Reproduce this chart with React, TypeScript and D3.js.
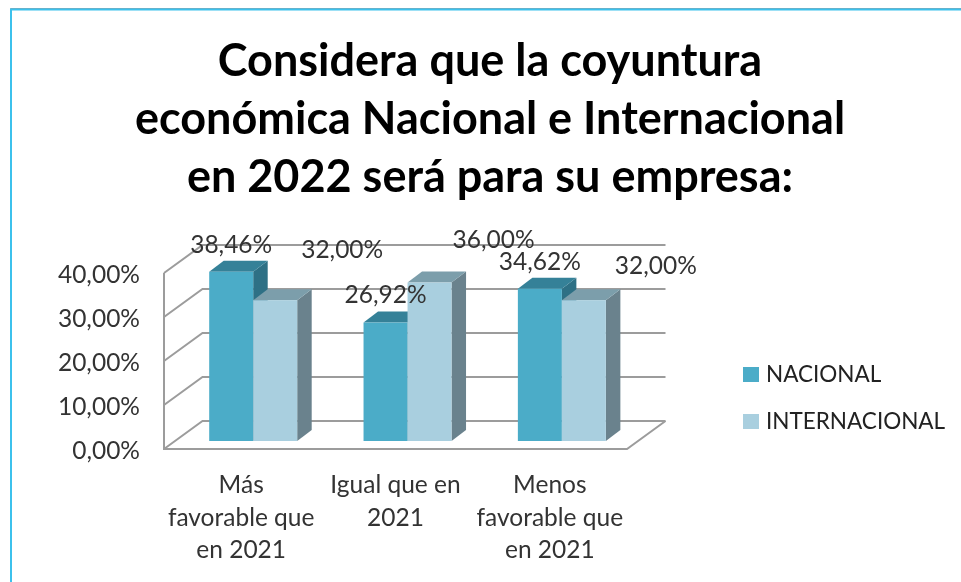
import React from "react";
import * as d3 from "d3";

const titleLines = ["Considera que la coyuntura", "económica Nacional e Internacional", "en 2022 será para su empresa:"];
const categories = ["Más favorable que en 2021", "Igual que en 2021", "Menos favorable que en 2021"];
const categoryLines = [["Más", "favorable que", "en 2021"], ["Igual que en", "2021"], ["Menos", "favorable que", "en 2021"]];
const seriesNames = ["NACIONAL", "INTERNACIONAL"];
const nacional = [38.46, 26.92, 34.62];
const internacional = [32.0, 36.0, 32.0];
const ticks = [0, 10, 20, 30, 40];
const labelShift = [[0, -19], [67, -42], [0, -19.5], [64, -35], [0, -19], [72, -26]];

const fmt = (v: number) => v.toFixed(2).replace(".", ",") + "%";
const FONT = "Lato, sans-serif";
const FS = 24.5;
const colors = [
  { front: "#4bacc8", top: "#358198", side: "#2e7085" },
  { front: "#a9cfdf", top: "#7c9eab", side: "#6a828d" },
];

const wallX0 = 164, wallX1 = 627, depthX = 38.5, depthY = -28;
const barDepthX = 14.5, barDepthY = -11;
const barBase = 441;

const x = d3.scaleBand<string>().domain(categories).range([wallX0, wallX1]);
const xs = d3.scaleBand<string>().domain(seriesNames).range([45.2, 133.2]);
const y = d3.scaleLinear().domain([0, 40]).range([449, 273]);
const h = (v: number) => y(0) - y(v);
const poly = (p: number[][]) => (d3.line()(p as [number, number][]) ?? "") + "Z";
const GRID = "#9c9c9c";

export default function App() {
  const all = [nacional, internacional];
  return (
    <svg width={961} height={582} style={{ position: "absolute", left: 0, top: 0, background: "#fff", filter: "blur(0.4px)" }}>
      <path d="M10.5 582V8.5H961" fill="none" stroke="#8fa3ad" strokeWidth={1} />
      <path d="M11 582V9.5H961" fill="none" stroke="#3cc1ec" strokeWidth={2} />
      {titleLines.map((t, i) => (
        <text key={t} x={490} y={75.5 + i * 58} textAnchor="middle" fontFamily="Lato, sans-serif" fontWeight={700} fontSize={45} fill="#000">{t}</text>
      ))}
      {ticks.map((t) => (
        <g key={t} fill="none" stroke={GRID} strokeWidth={2}>
          <path d={`M${wallX0} ${y(t)}L${wallX0 + depthX} ${y(t) + depthY}H${wallX1 + depthX}`} />
        </g>
      ))}
      <path d={`M${wallX0} ${y(40)}V${y(0)}H${wallX1}L${wallX1 + depthX} ${y(0) + depthY}`} fill="none" stroke={GRID} strokeWidth={2} />
      {ticks.map((t) => (
        <text key={t} x={140} y={y(t) + 9.5} textAnchor="end" fontFamily={FONT} fontSize={FS} fill="#333">{fmt(t)}</text>
      ))}
      {categories.map((c, ci) =>
        seriesNames.map((s, si) => {
          const v = all[si][ci];
          const x0 = x(c)! + xs(s)!, w = xs.bandwidth(), x1 = x0 + w;
          const yt = barBase - h(v);
          const col = colors[si];
          return (
            <g key={c + s}>
              <path d={poly([[x1, barBase], [x1 + barDepthX, barBase + barDepthY], [x1 + barDepthX, yt + barDepthY], [x1, yt]])} fill={col.side} />
              <path d={poly([[x0, yt], [x0 + barDepthX, yt + barDepthY], [x1 + barDepthX, yt + barDepthY], [x1, yt]])} fill={col.top} />
              <rect x={x0} y={yt} width={w} height={h(v)} fill={col.front} />
            </g>
          );
        })
      )}
      {categories.map((c, ci) =>
        seriesNames.map((s, si) => {
          const v = all[si][ci];
          const cx = x(c)! + xs(s)! + xs.bandwidth() / 2;
          const sh = labelShift[ci * 2 + si];
          return (
            <text key={c + s} x={cx + sh[0]} y={barBase - h(v) + sh[1]} textAnchor="middle" fontFamily={FONT} fontSize={FS} fill="#333">{fmt(v)}</text>
          );
        })
      )}
      {categories.map((c, ci) => (
        <text key={c} textAnchor="middle" fontFamily={FONT} fontSize={FS} fill="#333">
          {categoryLines[ci].map((l, li) => (
            <tspan key={li} x={x(c)! + x.bandwidth() / 2} y={493 + li * 32.5}>{l}</tspan>
          ))}
        </text>
      ))}
      {seriesNames.map((s, i) => (
        <g key={s}>
          <rect x={743} y={367 + i * 47} width={16} height={15} fill={colors[i].front} />
          <text x={766} y={382 + i * 47} fontFamily={FONT} fontSize={22.5} fill="#222">{s}</text>
        </g>
      ))}
    </svg>
  );
}
